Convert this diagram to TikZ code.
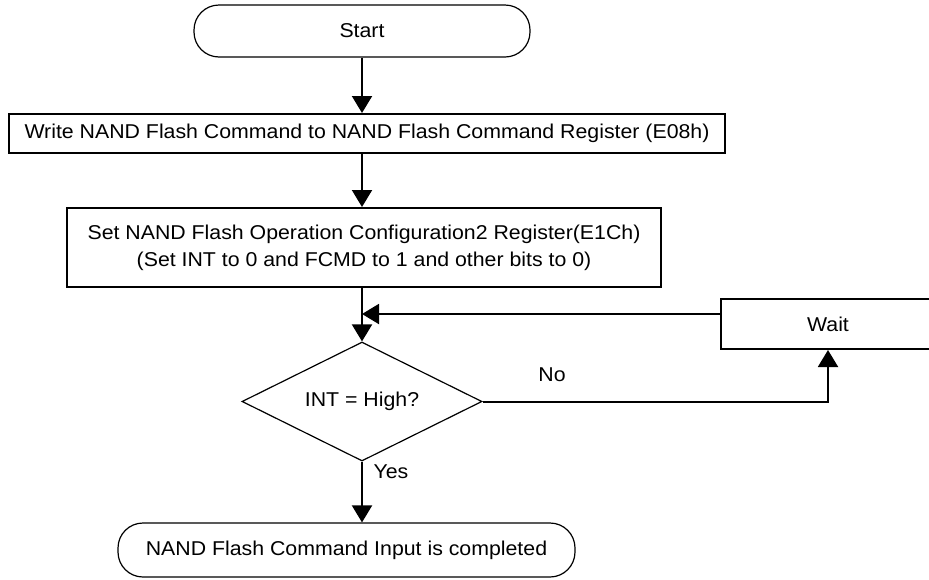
\documentclass[tikz,border=0pt]{standalone}
\usepackage{fontspec}
\setmainfont{Liberation Sans}[FakeStretch=1.065]
\usetikzlibrary{arrows.meta,positioning,shapes.geometric}

\begin{document}
\begin{tikzpicture}[x=1pt,y=-1pt,>={Triangle[width=20pt,length=17pt]},
  font=\fontsize{20}{27}\selectfont,
  box/.style={draw,line width=2pt,inner sep=0pt,align=center},
  term/.style={draw,line width=1.2pt,rounded corners=25pt,inner sep=0pt},
  decision/.style={draw,diamond,aspect=2,line width=1.2pt,inner sep=0pt},
  flow/.style={->,line width=2pt}]
  \useasboundingbox (0,0) rectangle (929,579);
  % nodes
  \node[term,minimum width=336pt,minimum height=52pt] (start) at (362,31) {Start};
  \node[box,minimum width=716pt,minimum height=39pt] (write) at (367,133.5)
     {Write NAND Flash Command to NAND Flash Command Register (E08h)};
  \node[box,minimum width=594pt,minimum height=79pt] (set) at (364,247.5)
     {Set NAND Flash Operation Configuration2 Register(E1Ch)\\
      (Set INT to 0 and FCMD to 1 and other bits to 0)};
  \node[decision,minimum width=240pt,minimum height=119pt] (dec) at (362,401.5)
     {INT = High?};
  \node[box,minimum width=214pt,minimum height=50pt] (wait) at (828,324) {Wait};
  \node[term,minimum width=457pt,minimum height=54pt] (done) at (346.5,550)
     {NAND Flash Command Input is completed};
  \coordinate (join) at (362,314);
  % connectors
  \draw[flow] (start.south) -- (start.south |- write.north);
  \draw[flow] (start.south |- write.south) -- (start.south |- set.north);
  \draw[flow] (start.south |- set.south) -- (dec.north);
  \draw[flow] (wait.west |- join) -- (join);
  \draw[flow] (dec.east) -| (wait.south);
  \draw[flow] (dec.south) -- (dec.south |- done.north);
  \node (no) at (552,375) {No};
  \node[anchor=west] (yes) at (370,472) {Yes};
\end{tikzpicture}
\end{document}
